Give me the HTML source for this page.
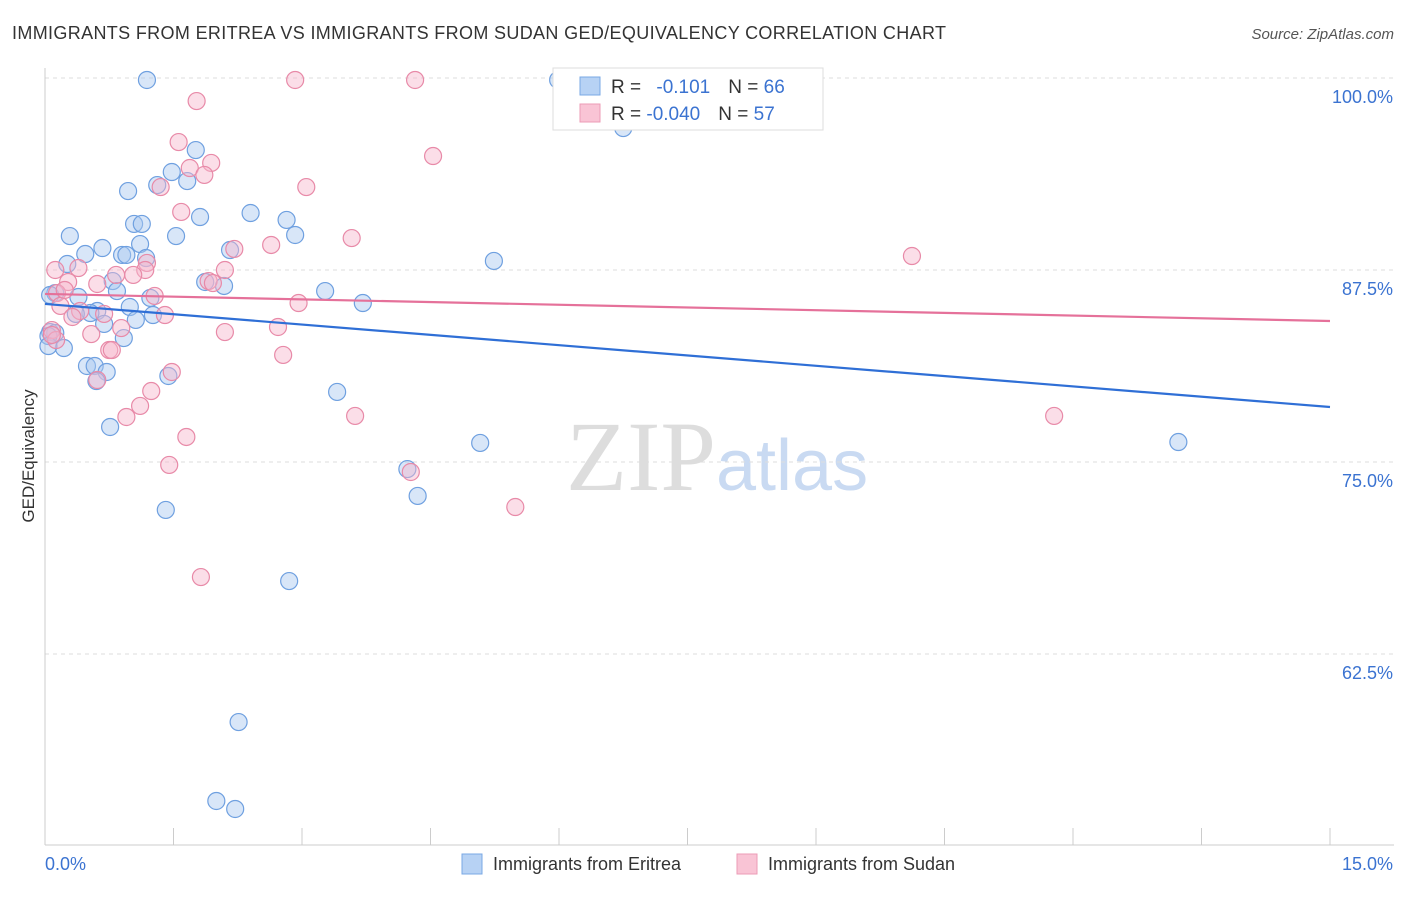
<!DOCTYPE html>
<html><head><meta charset="utf-8"><style>
body{margin:0;background:#fff;font-family:"Liberation Sans",sans-serif;}
</style></head><body>
<svg width="1406" height="892" xmlns="http://www.w3.org/2000/svg" font-family="Liberation Sans, sans-serif">
<text x="12" y="39" font-size="18" fill="#333" textLength="934" lengthAdjust="spacing">IMMIGRANTS FROM ERITREA VS IMMIGRANTS FROM SUDAN GED/EQUIVALENCY CORRELATION CHART</text>
<text x="1394" y="39" font-size="15" fill="#555" text-anchor="end" font-style="italic">Source: ZipAtlas.com</text>
<text x="716" y="490" font-size="100" fill="#ddd" text-anchor="end" font-family="Liberation Serif, serif">ZIP</text>
<text x="716" y="490" font-size="72" fill="#c9daf2">atlas</text>
<g id="grid"></g>
<g id="axes"></g>
<g id="marks"></g>
<text transform="translate(34,456) rotate(-90)" font-size="17" fill="#333" text-anchor="middle">GED/Equivalency</text>
<g>
<rect x="553" y="68" width="270" height="62" fill="#fff" stroke="#ddd"/>
<rect x="580" y="77" width="20" height="18" fill="#b7d2f4" stroke="#7aa8e4"/>
<rect x="580" y="104" width="20" height="18" fill="#f9c4d5" stroke="#ec9bb6"/>
<text x="611" y="93" font-size="19" fill="#333">R = <tspan fill="#3b73d1" dx="10">-0.101</tspan><tspan dx="18" fill="#333">N = </tspan><tspan fill="#3b73d1">66</tspan></text>
<text x="611" y="120" font-size="19" fill="#333">R = <tspan fill="#3b73d1">-0.040</tspan><tspan dx="18" fill="#333">N = </tspan><tspan fill="#3b73d1">57</tspan></text>
</g>
<g>
<rect x="462" y="854" width="20" height="20" fill="#b7d2f4" stroke="#7aa8e4"/>
<text x="493" y="870" font-size="18" fill="#333">Immigrants from Eritrea</text>
<rect x="737" y="854" width="20" height="20" fill="#f9c4d5" stroke="#ec9bb6"/>
<text x="768" y="870" font-size="18" fill="#333">Immigrants from Sudan</text>
</g>
</svg>
<script>
const blueX=[1.19,5.99,6.75,1.76,1.48,1.66,1.31,0.97,2.40,1.81,2.82,1.04,1.13,0.29,1.53,2.92,1.11,0.67,0.47,0.90,0.95,1.18,2.16,5.24,0.26,1.87,2.09,0.79,3.27,0.12,0.84,0.06,0.39,1.23,3.71,0.99,0.61,0.53,1.26,0.36,1.06,0.69,0.06,0.12,0.04,0.92,0.22,0.04,0.49,0.58,0.72,1.44,0.60,3.41,0.76,5.08,13.23,4.23,4.35,1.41,2.85,2.26,2.00,2.22];
const blueY=[99.87,99.87,96.74,95.31,93.88,93.29,93.03,92.64,91.21,90.95,90.76,90.50,90.50,89.71,89.71,89.78,89.19,88.93,88.54,88.48,88.48,88.28,88.80,88.09,87.89,86.72,86.46,86.78,86.13,86.00,86.13,85.87,85.74,85.68,85.35,85.09,84.83,84.70,84.57,84.64,84.25,83.99,83.46,83.40,83.20,83.07,82.42,82.55,81.25,81.25,80.86,80.60,80.27,79.56,77.28,76.24,76.30,74.54,72.79,71.88,67.25,58.07,52.93,52.41];
const pinkX=[2.92,4.32,1.77,1.56,4.53,1.94,1.69,1.86,1.35,3.05,1.59,3.58,2.21,2.64,10.12,1.19,1.17,0.12,0.39,2.10,1.03,0.83,0.61,1.91,1.96,0.27,1.28,0.14,2.96,0.18,0.41,1.40,0.69,0.32,2.72,0.89,0.54,2.10,0.08,0.13,0.75,0.78,2.78,1.48,0.61,1.24,1.11,0.95,3.62,11.78,1.65,4.27,1.45,5.49,1.82,0.08,0.23];
const pinkY=[99.87,99.87,98.50,95.83,94.92,94.47,94.14,93.69,92.90,92.90,91.28,89.58,88.87,89.13,88.41,87.96,87.50,87.50,87.63,87.50,87.18,87.18,86.59,86.78,86.65,86.72,85.81,86.00,85.35,85.16,84.83,84.57,84.64,84.44,83.79,83.72,83.33,83.46,83.59,82.94,82.29,82.29,81.97,80.86,80.34,79.62,78.65,77.93,78.00,78.00,76.63,74.35,74.81,72.07,67.51,83.27,86.20];
const blueTrend=[85.29,78.58];
const pinkTrend=[85.94,84.18];
const yTicks=[100,87.5,75,62.5];
const xTickLabels=["0.0%","15.0%"];
const NS="http://www.w3.org/2000/svg";
const X=v=>45+v/15*1285;
const Y=v=>78+(100-v)*15.36;
function mk(t,a,p){const e=document.createElementNS(NS,t);for(const k in a)e.setAttribute(k,a[k]);p.appendChild(e);return e;}
const grid=document.getElementById('grid'),axes=document.getElementById('axes'),marks=document.getElementById('marks');
yTicks.forEach(v=>{
 const l=mk('line',{x1:45,x2:1394,y1:Y(v),y2:Y(v),stroke:'#ddd','stroke-dasharray':'4,4'},grid);
 
 
 const t=mk('text',{x:1393,y:Y(v)+25,'font-size':18,fill:'#3b73d1','text-anchor':'end'},axes);
 t.textContent=v.toFixed(1)+'%';
 
 
});
mk('line',{x1:45,x2:45,y1:68,y2:845,stroke:'#ccc'},axes);
mk('line',{x1:45,x2:1394,y1:845,y2:845,stroke:'#ccc'},axes);
for(let i=0;i<=10;i++){const x=X(i*1.5);mk('line',{x1:x,x2:x,y1:828,y2:845,stroke:'#ccc'},axes);}
const t0=mk('text',{x:45,y:870,'font-size':18,fill:'#3b73d1'},axes);t0.textContent=xTickLabels[0];


const t1=mk('text',{x:1393,y:870,'font-size':18,fill:'#3b73d1','text-anchor':'end'},axes);t1.textContent=xTickLabels[1];


function pts(xs,ys,fill,stroke,name){xs.forEach((x,i)=>{
 const c=mk('circle',{cx:X(x),cy:Y(ys[i]),r:8.5,fill:fill,'fill-opacity':0.45,stroke:stroke,'stroke-width':1.2},marks);
 
 
});}
pts(blueX,blueY,'#a9c8f0','#6fa0e0','eritrea-point');
pts(pinkX,pinkY,'#f6b6cb','#e88aa8','sudan-point');
const bl=mk('line',{x1:X(0),y1:Y(blueTrend[0]),x2:X(15),y2:Y(blueTrend[1]),stroke:'#2f6fd6','stroke-width':2.2},marks);


const pl=mk('line',{x1:X(0),y1:Y(pinkTrend[0]),x2:X(15),y2:Y(pinkTrend[1]),stroke:'#e5719a','stroke-width':2.2},marks);


</script>
</body></html>
